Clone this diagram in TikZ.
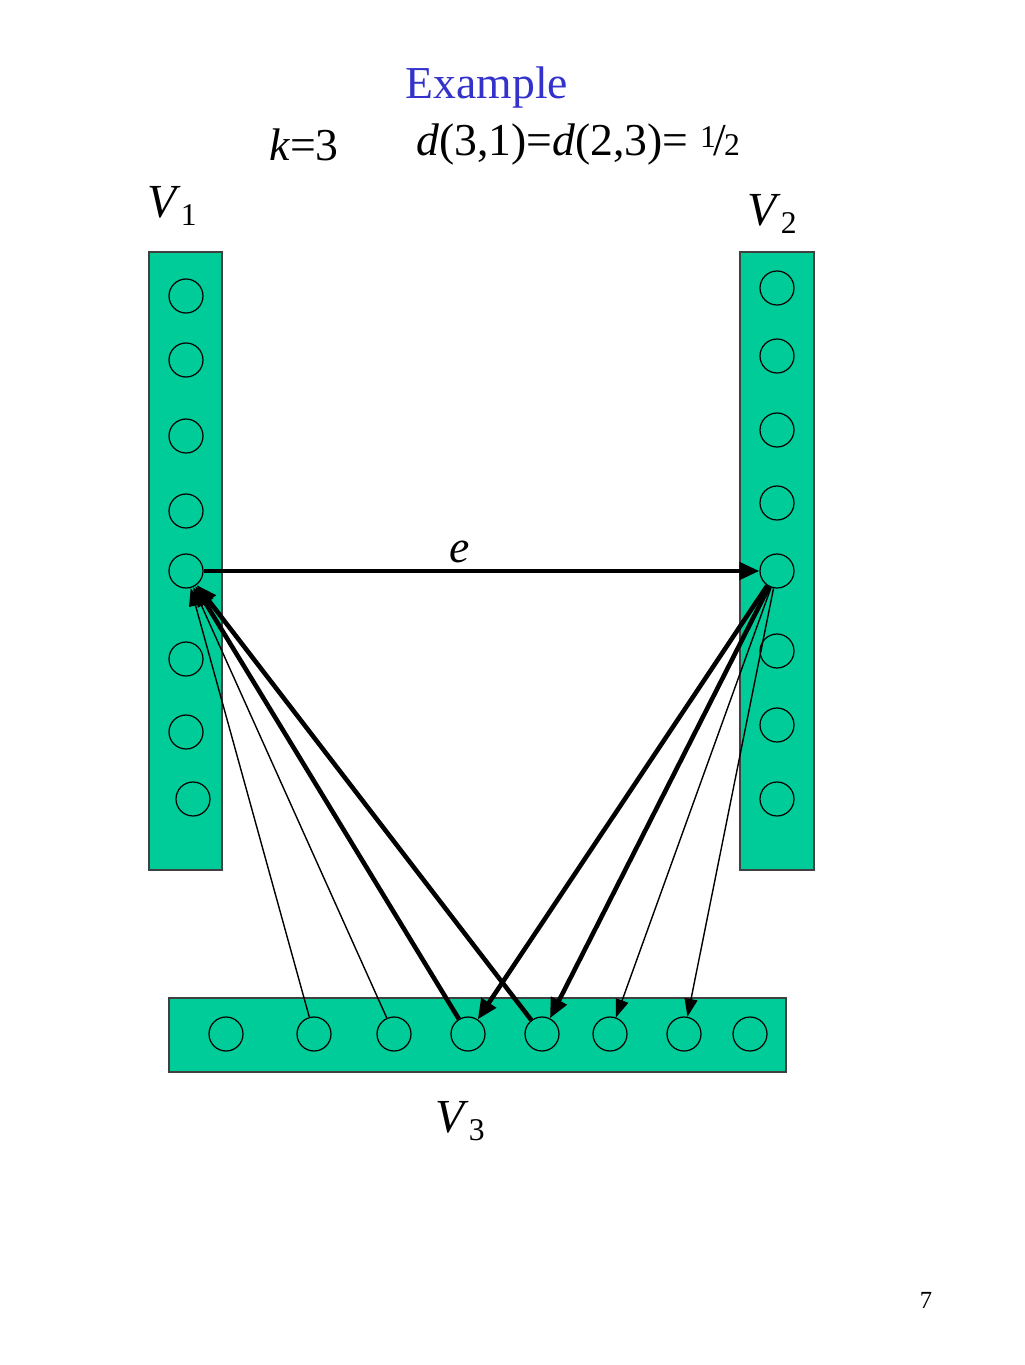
\documentclass[tikz,border=0pt]{standalone}
\usepackage{fontspec}
\setmainfont{Liberation Serif}
\usetikzlibrary{arrows.meta}
\definecolor{slidegreen}{RGB}{0,204,153}
\definecolor{titleblue}{RGB}{51,51,204}
\newcommand{\vname}[1]{\textit{V}\raisebox{-0.35ex}{\fontsize{18}{18}\selectfont #1}}
\newcommand{\onehalf}{\raisebox{0.42ex}{\fontsize{18}{18}\selectfont 1}\kern-0.05em/\kern-0.05em{\fontsize{18}{18}\selectfont 2}}
\tikzstyle{part}=[draw=black!75, fill=slidegreen, line width=0.8pt]
\tikzstyle{vert}=[circle, draw, line width=0.7pt, minimum size=0.68cm, inner sep=0pt]
\tikzstyle{bigarr}=[-{Triangle[length=0.4cm,width=0.34cm]}, line width=2.6pt]
\tikzstyle{smallarr}=[-{Triangle[length=0.36cm,width=0.26cm]}, line width=0.8pt]
\begin{document}
\begin{tikzpicture}[x=0.02cm, y=-0.02cm]
		\useasboundingbox (0,0) rectangle (1024,1365);
		\node[titleblue] (title) at (487,88) {\fontsize{26}{30}\selectfont Example};
		\node (kval) at (304,145) {\fontsize{26}{30}\selectfont\textit{k}=3};
		\node (dval) at (578,145) {\fontsize{26}{30}\selectfont\textit{d}(3,1)=\textit{d}(2,3)= \onehalf};
		
		% the three parts
		\draw[part] (149,252) rectangle (222,870);
		\draw[part] (740,252) rectangle (814,870);
		\draw[part] (169,998) rectangle (786,1072);
		\node (v1) at (172,206) {\fontsize{27}{30}\selectfont\vname{1}};
		\node (v2) at (772,214) {\fontsize{27}{30}\selectfont\vname{2}};
		\node (v3) at (460,1121) {\fontsize{27}{30}\selectfont\vname{3}};
		
		\foreach \i/\x/\y in {1/186/296,2/186/360,3/186/436,4/186/511,5/186/571,6/186/659,7/186/732,8/193/799}
		\node[vert] (a\i) at (\x,\y) {};
		\foreach \i/\y in {1/288,2/356,3/430,4/503,5/571,6/651,7/725,8/799}
		\node[vert] (b\i) at (777,\y) {};
		\foreach \i/\x in {1/226,2/314,3/394,4/468,5/542,6/610,7/684,8/750}
		\node[vert] (c\i) at (\x,1034) {};
		
		\draw[bigarr] (a5) -- node[above, pos=0.46] {\fontsize{26}{30}\selectfont\textit{e}} (b5);
		
		\draw[smallarr] (c2) -- (a5);
		\draw[smallarr] (c3) -- (a5);
		\draw[bigarr] (c4) -- (a5);
		\draw[bigarr] (c5) -- (a5);
		
		\draw[bigarr] (b5) -- (c4);
		\draw[bigarr] (b5) -- (c5);
		\draw[smallarr] (b5) -- (c6);
		\draw[smallarr] (b5) -- (c7);
		
		\node (pagenum) at (926,1300) {\fontsize{14}{16}\selectfont 7};
\end{tikzpicture}
\end{document}
